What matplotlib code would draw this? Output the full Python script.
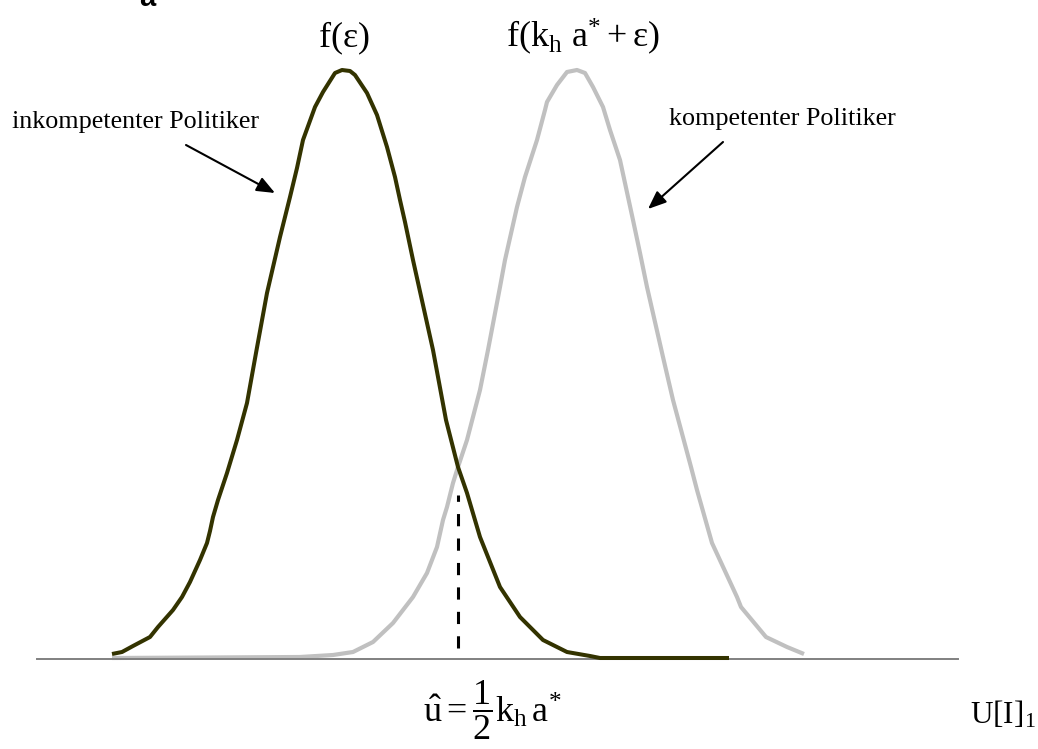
import matplotlib
matplotlib.use("Agg")
import matplotlib.pyplot as plt

plt.rcParams['mathtext.fontset'] = 'custom'
plt.rcParams['mathtext.rm'] = 'Liberation Serif'
plt.rcParams['mathtext.it'] = 'Liberation Serif'
plt.rcParams['mathtext.bf'] = 'Liberation Serif:bold'

# Curve of the incompetent politician f(eps): x position, height above baseline
dark_x = [112, 122, 133, 150, 158, 173, 182, 190, 200, 207, 210, 213, 218, 227, 237,
          247, 256, 267, 280, 290, 297, 303, 315, 323, 335, 342, 350, 355, 367, 377,
          387, 395, 400, 405, 413, 423, 433, 446, 458, 467, 480, 500, 520, 543, 567,
          590, 600, 729]
dark_h = [5, 7, 13, 22, 32, 49, 62, 77, 99, 116, 128, 142, 159, 186, 219,
          256, 306, 366, 422, 462, 491, 519, 552, 567, 586, 589, 588, 584, 566, 544,
          512, 482, 459, 437, 399, 354, 309, 239, 192, 166, 122, 72, 42, 19, 7,
          3, 1, 1]

# Curve of the competent politician f(k_h a* + eps)
grey_x = [112, 300, 333, 353, 373, 393, 413, 427, 437, 443, 447, 453, 458, 467, 480,
          488, 500, 505, 517, 525, 537, 545, 547, 557, 567, 577, 585, 593, 603, 610,
          620, 633, 640, 647, 663, 673, 691, 697, 712, 737, 741, 766, 787, 804]
grey_h = [1, 2, 4, 7, 17, 36, 62, 86, 112, 139, 152, 176, 192, 219, 269,
          309, 372, 399, 452, 482, 519, 549, 557, 574, 587, 589, 586, 572, 552, 529,
          499, 439, 406, 372, 302, 259, 192, 169, 116, 62, 52, 22, 12, 5]

u_hat = 458          # threshold position
u_hat_top = 164      # top of the dashed line
u_hat_bottom = 11

fig = plt.figure(figsize=(10.38, 7.49), dpi=100)
ax = fig.add_axes([0, 0, 1, 1])
ax.set_xlim(0, 1038)
ax.set_ylim(-90, 659)
ax.axis('off')

ax.plot(grey_x, grey_h, color='#c0c0c0', lw=3.0, solid_capstyle='butt',
        solid_joinstyle='round', zorder=2)
ax.plot([37, 958], [0, 0], color='#808080', lw=1.4, zorder=3)
ax.plot(dark_x, dark_h, color='#333300', lw=2.9, solid_capstyle='butt',
        solid_joinstyle='round', zorder=4)
ax.plot([u_hat, u_hat], [u_hat_bottom, u_hat_top], color='black', lw=2.2,
        dashes=(4, 4), zorder=5)

serif = 'Liberation Serif'
ax.text(139, 653, 'a', fontsize=21, fontweight='bold', family='Liberation Sans',
        ha='left', va='baseline')
ax.text(344, 612, r'$\mathrm{f}(\varepsilon)$', fontsize=26,
        ha='center', va='baseline')
ax.text(583, 612, r'$\mathrm{f}(\mathrm{k}_{\mathrm{h}}\ \mathrm{a}^{*}+\varepsilon)$',
        fontsize=26, ha='center', va='baseline')

ax.text(12, 531, 'inkompetenter Politiker', fontsize=18.8, family=serif,
        ha='left', va='baseline')
ax.text(669, 534, 'kompetenter Politiker', fontsize=18.8, family=serif,
        ha='left', va='baseline')

arrow_kw = dict(arrowstyle='-|>,head_length=1.1,head_width=0.45', color='black',
                lw=1.5, mutation_scale=10, shrinkA=0, shrinkB=0)
ax.annotate('', xy=(275, 466), xytext=(186, 514), arrowprops=arrow_kw)
ax.annotate('', xy=(648, 450), xytext=(723, 517), arrowprops=arrow_kw)

ax.text(423, -63, r'$\hat{\mathrm{u}}=\dfrac{1}{2}\mathrm{k}_{\mathrm{h}}\,\mathrm{a}^{*}$',
        fontsize=26, ha='left', va='baseline')
ax.text(970, -64, r'$\mathrm{U}[\mathrm{I}]_{1}$', fontsize=22.5,
        ha='left', va='baseline')

fig.savefig('out.png', dpi=100)
